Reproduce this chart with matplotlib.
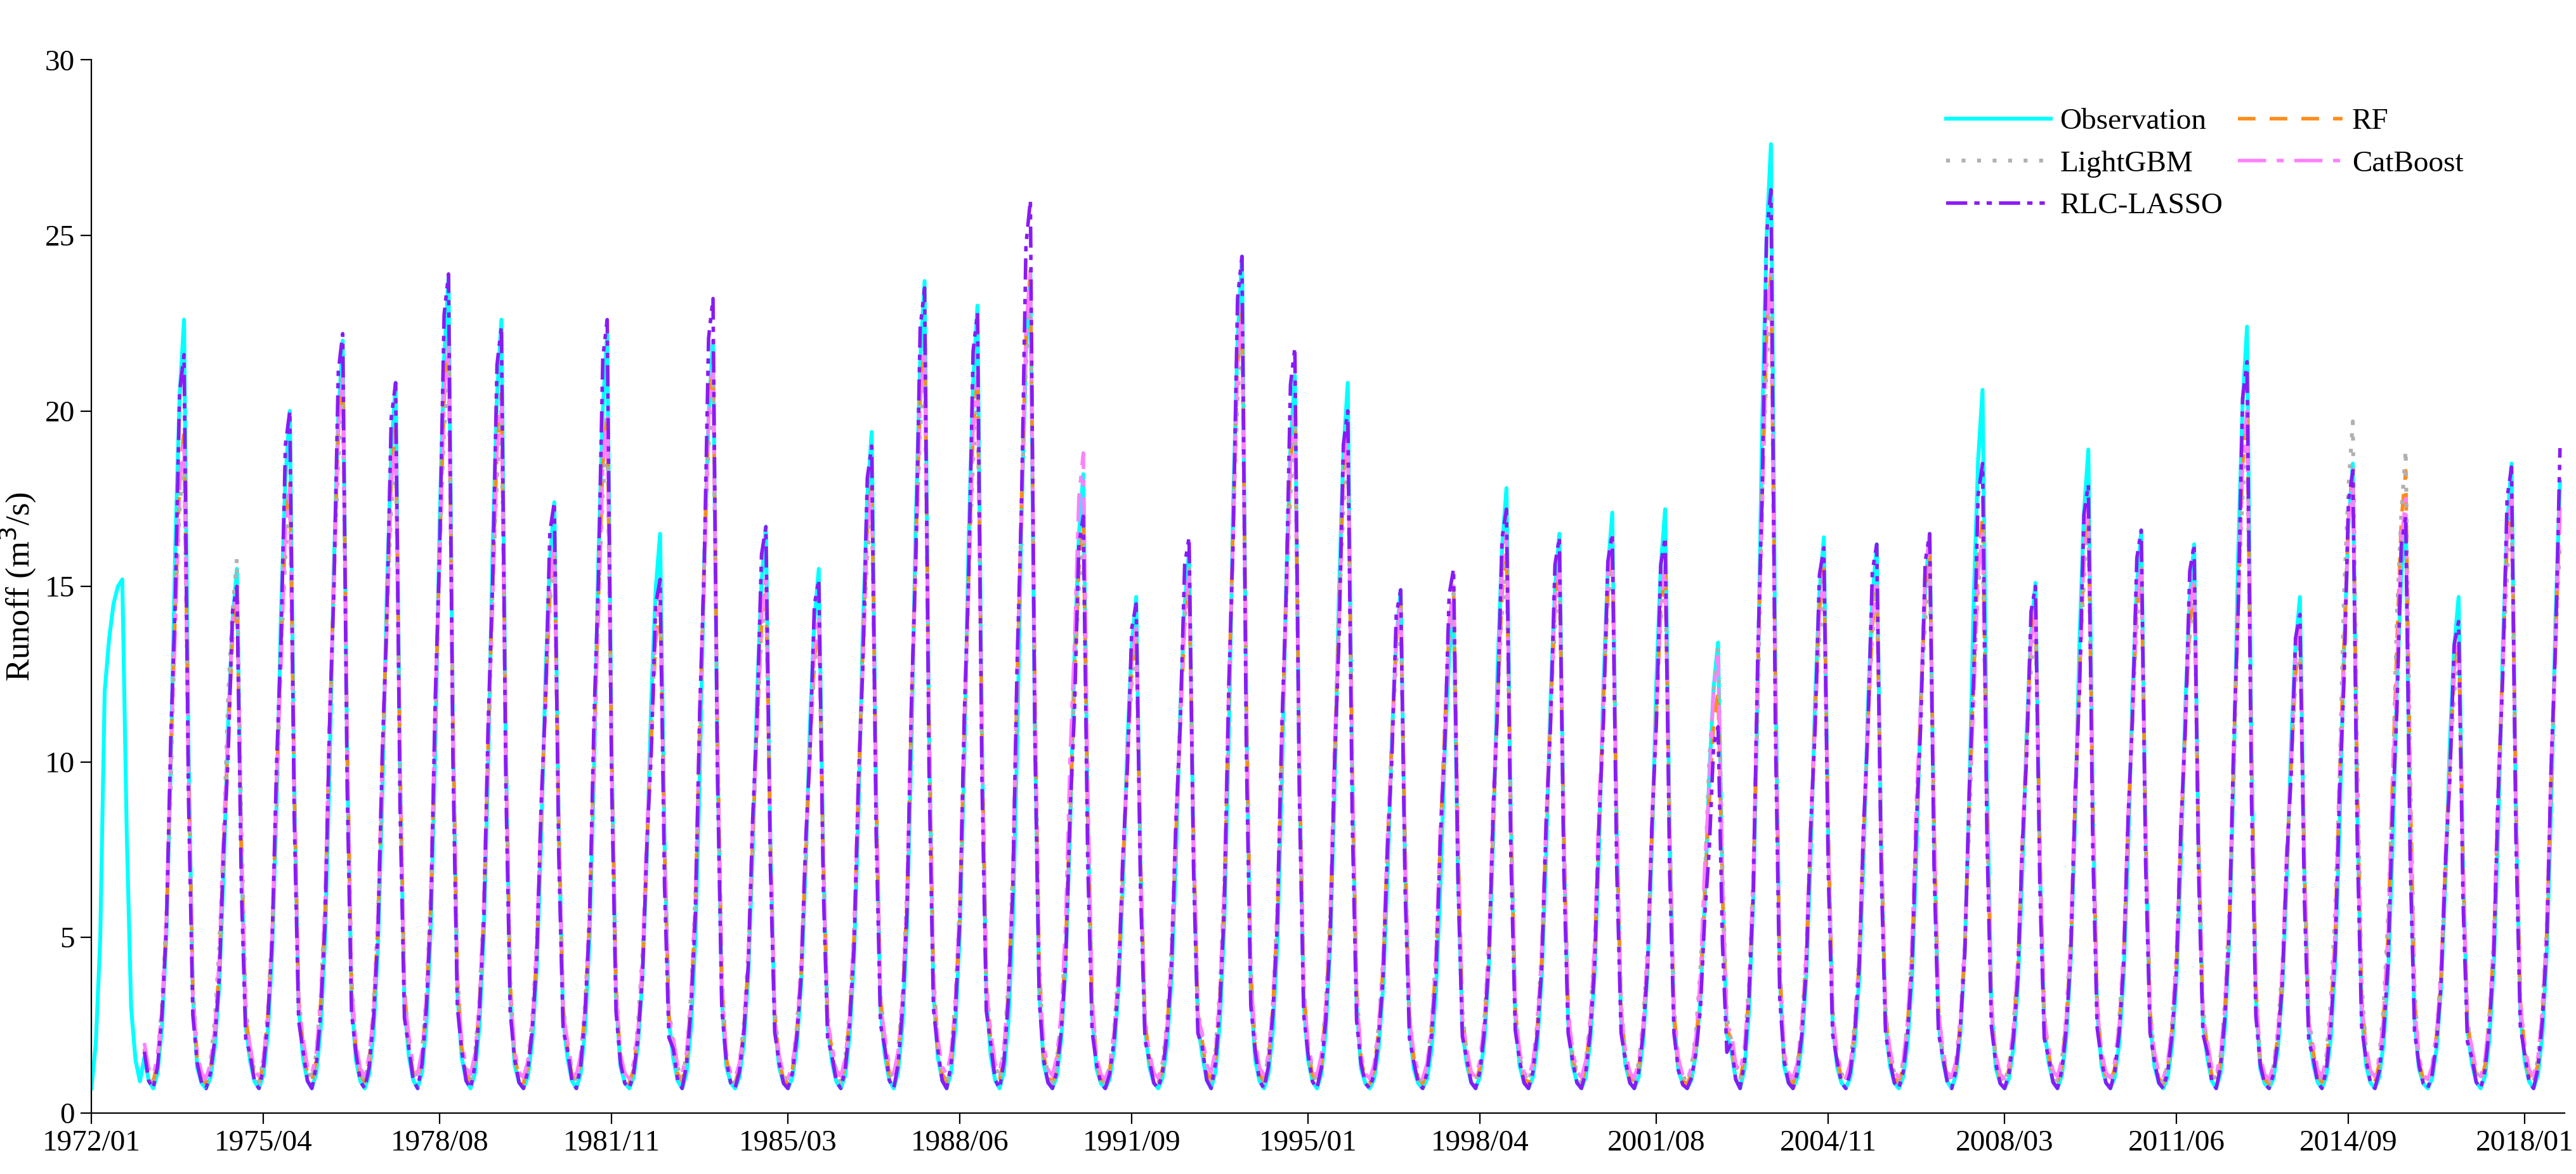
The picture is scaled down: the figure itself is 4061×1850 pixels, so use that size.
import matplotlib
matplotlib.use("Agg")
import matplotlib.pyplot as plt
import numpy as np

plt.rcParams['font.family'] = ['Liberation Serif', 'DejaVu Serif']

years = list(range(1973, 2019))
obs_1972 = [0.7, 2.0, 5.0, 12.0, 13.5, 14.5, 15.0, 15.2, 8.0, 3.0, 1.5, 0.9]
obs_peaks = [22.6,15.5,20,22,20.8,23.8,22.6,17.4,22.2,16.5,22,16.7,15.5,19.4,23.7,23,24,18.2,14.7,16,24.4,21,20.8,14.9,14.4,17.8,16.5,17.1,17.2,13.4,27.6,16.4,16.2,16.5,20.6,15.1,18.9,16.6,16.2,22.4,14.7,18.5,17,14.7,18.5,19.9]
lasso_peaks = [21.6,15,20,22.2,20.8,23.9,22.4,17.4,22.6,15.2,23.2,16.7,15.2,19,23.5,22.8,26,17,14.5,16.4,24.4,21.8,20,14.9,15.5,17.2,16.4,16.5,16.4,11,26.3,16.1,16.2,16.5,18.5,15,17.9,16.6,16.2,21.4,14.2,18.3,17,14,18.4,19.9]
rf_peaks = [19.5,14.6,18,21,19.5,22,20.5,16,20,14.5,21.5,15,14,18,22,21,24,16.8,13.6,15,23,20,19.5,14.5,15,16,15.5,16,15.5,12,24,15.5,15,16,17,14.5,17,15.5,15,20,13.5,18.3,18.3,13.5,17.5,18.5]
lgbm_peaks = [19,15.8,17.5,20.5,19,21.5,20,16,19.5,15,21,15,14,17.5,21.5,20.5,23.5,16.5,13.5,15.5,22.5,19.5,19,14.2,14.8,15.8,15.3,16,15.5,13.3,23.5,15,15,15.5,16.5,14,16.8,15.3,15,19.5,13.5,19.7,18.9,13.2,17,18]
cat_peaks = [19.2,15,17.8,21,19.2,22,20.3,16.2,19.8,14.8,21.3,15.2,14.2,17.8,21.8,21,24,18.8,13.8,15.3,23,20,19.5,14.5,15,16.5,15.6,16.4,15.6,13,24,15.3,15.2,16.5,16.5,14.4,17.2,15.6,15.4,20,13.8,18,17.5,13.5,17.6,18.5]
low_flow = 0.7

obs_profile   = [0.04,0.01,0.0,0.02,0.08,0.2,0.42,0.7,0.9,1.0,0.45,0.12]
lasso_profile = [0.05,0.01,0.0,0.03,0.1,0.22,0.48,0.66,0.95,1.0,0.4,0.1]
rf_profile    = [0.06,0.02,0.01,0.04,0.12,0.25,0.5,0.72,0.92,1.0,0.5,0.15]
lgbm_profile  = [0.06,0.03,0.01,0.05,0.13,0.27,0.47,0.74,0.9,1.0,0.5,0.16]
cat_profile   = [0.07,0.03,0.02,0.05,0.12,0.26,0.52,0.7,0.93,1.0,0.48,0.14]

tick_labels = ['1972/01','1975/04','1978/08','1981/11','1985/03','1988/06','1991/09','1995/01',
               '1998/04','2001/08','2004/11','2008/03','2011/06','2014/09','2018/01']

def build(peaks, profile):
    vals = []
    for p in peaks:
        vals += [low_flow + (p - low_flow) * f for f in profile]
    return np.array(vals[:-3])  # series ends 2018/09

t_models = np.array([1973 + i / 12 for i in range(len(years) * 12 - 3)])
obs = np.concatenate([obs_1972, build(obs_peaks, obs_profile)])
t_obs = np.concatenate([[1972 + i / 12 for i in range(12)], t_models])

fig = plt.figure(figsize=(20.305, 9.25), dpi=200)
ax = fig.add_axes([0.0355, 0.052, 0.96, 0.897])
h_obs, = ax.plot(t_obs, obs, color='#00FFFF', lw=2.2, label='Observation')
h_rf, = ax.plot(t_models, build(rf_peaks, rf_profile), color='#FF8C1A', lw=2, ls=(0, (5, 4)), label='RF')
h_lg, = ax.plot(t_models, build(lgbm_peaks, lgbm_profile), color='#B0B0B0', lw=2.2, ls=(0, (1, 3)), label='LightGBM')
h_cb, = ax.plot(t_models, build(cat_peaks, cat_profile), color='#FF80FF', lw=2, ls=(0, (8, 3, 2, 3)), label='CatBoost')
h_la, = ax.plot(t_models, build(lasso_peaks, lasso_profile), color='#8A1AF5', lw=2, ls=(0, (6, 2, 1.5, 2, 1.5, 2)), label='RLC-LASSO')

pos = [int(s[:4]) + (int(s[5:]) - 1) / 12 for s in tick_labels]
ax.set_xticks(pos)
ax.set_xticklabels(tick_labels, fontsize=17)
ax.set_xlim(1972, 2018.75)
ax.set_ylim(0, 30)
ax.set_yticks(range(0, 31, 5))
ax.tick_params(axis='y', labelsize=17, direction='out', length=6)
ax.tick_params(axis='x', direction='out', length=6)
ax.spines['top'].set_visible(False)
ax.spines['right'].set_visible(False)
ax.set_ylabel('Runoff (m$^3$/s)', fontsize=19)
handles = [h_obs, h_lg, h_la, h_rf, h_cb]
ax.legend(handles, [h.get_label() for h in handles], ncol=2, loc='upper right',
          bbox_to_anchor=(0.97, 0.98), frameon=False, fontsize=17,
          handlelength=3.5, columnspacing=0.5, handletextpad=0.3)
fig.savefig('out.png', dpi=200)
